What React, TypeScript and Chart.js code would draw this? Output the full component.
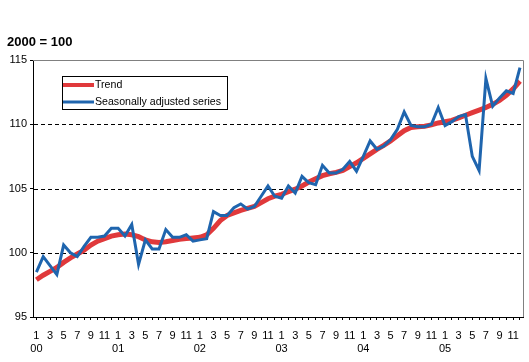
import React, { useEffect, useRef } from "react";
import { Chart, registerables } from "chart.js";

Chart.register(...registerables);

// ---- data ----
const years = ["00", "01", "02", "03", "04", "05"];
const monthNumbers = [1, 2, 3, 4, 5, 6, 7, 8, 9, 10, 11, 12];
const categories = years.flatMap((y) => monthNumbers.map((m) => `${m}/${y}`));

const trend = [
  97.9, 98.25, 98.55, 98.85, 99.25, 99.6, 99.9, 100.2, 100.6, 100.9, 101.1, 101.3,
  101.4, 101.45, 101.4, 101.25, 101.0, 100.85, 100.8, 100.85, 100.95, 101.05, 101.1, 101.15,
  101.2, 101.4, 101.9, 102.5, 102.9, 103.1, 103.3, 103.45, 103.6, 103.9, 104.2, 104.4,
  104.55, 104.75, 104.95, 105.2, 105.5, 105.75, 106.0, 106.15, 106.25, 106.4, 106.7, 107.0,
  107.35, 107.7, 108.05, 108.35, 108.7, 109.1, 109.5, 109.75, 109.8, 109.85, 109.95, 110.1,
  110.2, 110.3, 110.5, 110.7, 110.9, 111.1, 111.3, 111.55, 111.85, 112.25, 112.75, 113.35,
];

const seasonallyAdjusted = [
  98.5, 99.7, 99.0, 98.3, 100.6, 100.0, 99.7, 100.5, 101.2, 101.2, 101.3, 101.9,
  101.9, 101.3, 102.2, 99.1, 101.0, 100.3, 100.3, 101.8, 101.2, 101.2, 101.4, 100.9,
  101.0, 101.1, 103.2, 102.9, 102.9, 103.5, 103.8, 103.4, 103.6, 104.4, 105.2, 104.4,
  104.25, 105.2, 104.65, 105.95, 105.45, 105.3, 106.8, 106.2, 106.2, 106.5, 107.1, 106.35,
  107.5, 108.7, 108.05, 108.3, 108.8, 109.6, 110.95, 109.9, 109.8, 109.8, 110.0, 111.3,
  109.9, 110.2, 110.6, 110.75, 107.5, 106.4, 113.55, 111.4, 112.05, 112.6, 112.4, 114.4,
];

const seriesNames = ["Trend", "Seasonally adjusted series"];
const gridValues = [100, 105, 110];
const yMin = 95;
const yMax = 115;
const yStep = 5;
const titleText = "2000 = 100";

// ---- style ----
const FONT = "'Liberation Sans', Arial, sans-serif";
const RED = "#E0393B";
const BLUE = "#1F65AE";

const decorPlugin = {
  id: "decor",
  beforeDatasetsDraw(chart: any) {
    const { ctx, chartArea, scales } = chart;
    const { left, right, top, bottom } = chartArea;
    ctx.save();
    // dashed gridlines
    ctx.strokeStyle = "#000";
    ctx.lineWidth = 1;
    ctx.setLineDash([4, 3]);
    for (const v of gridValues) {
      const y = Math.round(scales.y.getPixelForValue(v)) + 0.5;
      ctx.beginPath();
      ctx.moveTo(left + 1, y);
      ctx.lineTo(right, y);
      ctx.stroke();
    }
    ctx.setLineDash([]);
    // plot area border (top and right)
    ctx.strokeStyle = "#808080";
    ctx.beginPath();
    ctx.moveTo(left, Math.round(top) + 0.5);
    ctx.lineTo(Math.round(right) + 0.5, Math.round(top) + 0.5);
    ctx.lineTo(Math.round(right) + 0.5, bottom);
    ctx.stroke();
    ctx.restore();
  },
  afterDraw(chart: any) {
    const { ctx } = chart;
    ctx.save();
    // title
    ctx.fillStyle = "#000";
    ctx.font = `bold 13px ${FONT}`;
    ctx.textAlign = "left";
    ctx.textBaseline = "alphabetic";
    ctx.fillText(titleText, 7, 46);
    // legend
    ctx.fillStyle = "#fff";
    ctx.fillRect(62, 76, 166, 34);
    ctx.strokeStyle = "#000";
    ctx.lineWidth = 1;
    ctx.strokeRect(62.5, 76.5, 165, 33);
    const rows = [
      { name: seriesNames[0], color: RED, w: 4, y: 85 },
      { name: seriesNames[1], color: BLUE, w: 3, y: 102 },
    ];
    ctx.font = `10.6px ${FONT}`;
    ctx.textBaseline = "middle";
    for (const r of rows) {
      ctx.strokeStyle = r.color;
      ctx.lineWidth = r.w;
      ctx.beginPath();
      ctx.moveTo(63, r.y);
      ctx.lineTo(94, r.y);
      ctx.stroke();
      ctx.fillStyle = "#000";
      ctx.fillText(r.name, 95, r.y + 0.5);
    }
    ctx.restore();
  },
};

export default function App() {
  const canvasRef = useRef<HTMLCanvasElement | null>(null);

  useEffect(() => {
    if (!canvasRef.current) return;
    const chart = new Chart(canvasRef.current, {
      type: "line",
      data: {
        labels: categories,
        datasets: [
          {
            label: seriesNames[0],
            data: trend,
            borderColor: RED,
            backgroundColor: RED,
            borderWidth: 5,
            pointRadius: 0,
            tension: 0,
            order: 2,
          },
          {
            label: seriesNames[1],
            data: seasonallyAdjusted,
            borderColor: BLUE,
            backgroundColor: BLUE,
            borderWidth: 3,
            pointRadius: 0,
            tension: 0,
            order: 1,
          },
        ],
      },
      options: {
        responsive: false,
        animation: false,
        maintainAspectRatio: false,
        layout: { padding: { top: 60, right: 5, left: 0, bottom: 0 } },
        plugins: {
          legend: { display: false },
          title: { display: false },
          tooltip: { enabled: false },
        },
        scales: {
          x: {
            type: "category",
            offset: true,
            afterFit(scale: any) {
              scale.height = 45;
            },
            grid: {
              display: true,
              offset: false,
              drawOnChartArea: false,
              drawTicks: true,
              tickLength: 3,
              tickColor: "#000",
              lineWidth: 1,
            },
            border: { display: true, color: "#000", width: 1 },
            ticks: {
              autoSkip: false,
              maxRotation: 0,
              minRotation: 0,
              padding: 9,
              color: "#000",
              font: { family: FONT, size: 11, lineHeight: 1.2 },
              callback: (_v: any, index: number) => {
                const m = index % 12;
                const mon = monthNumbers[m];
                if (mon % 2 === 0) return "";
                if (m === 0) return [String(mon), years[Math.floor(index / 12)]];
                return String(mon);
              },
            },
          },
          y: {
            min: yMin,
            max: yMax,
            afterFit(scale: any) {
              scale.width = 33;
            },
            grid: {
              display: true,
              drawOnChartArea: false,
              drawTicks: true,
              tickLength: 3,
              tickColor: "#000",
            },
            border: { display: true, color: "#000", width: 1 },
            ticks: {
              stepSize: yStep,
              padding: 3,
              color: "#000",
              font: { family: FONT, size: 11 },
            },
          },
        },
      },
      plugins: [decorPlugin],
    });
    return () => chart.destroy();
  }, []);

  return (
    <div style={{ position: "fixed", left: 0, top: 0, width: 529, height: 362, background: "#fff" }}>
      <canvas ref={canvasRef} width={529} height={362} style={{ display: "block" }} />
    </div>
  );
}
